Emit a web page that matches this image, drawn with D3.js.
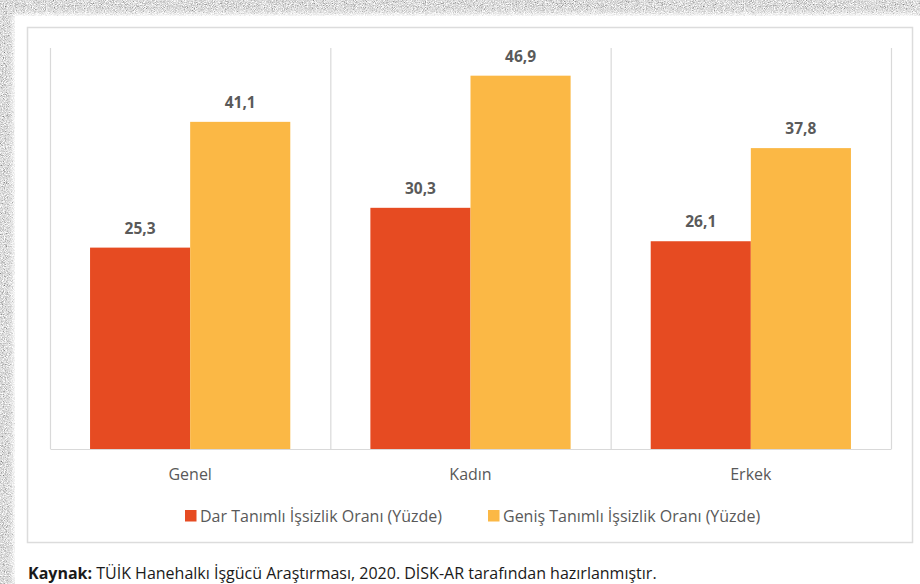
<!DOCTYPE html>
<html>
<head>
<meta charset="utf-8">
<script src="https://cdn.jsdelivr.net/npm/d3@7/dist/d3.min.js"></script>
<style>
  html, body { margin: 0; padding: 0; background: #fff; }
  svg { display: block; }
  text { font-family: "Open Sans", "Noto Sans", sans-serif; }
</style>
</head>
<body>
<svg id="chart" width="920" height="584"></svg>
<script>
// Data
const categories = ["Genel", "Kadın", "Erkek"];
const seriesNames = ["Dar Tanımlı İşsizlik Oranı (Yüzde)", "Geniş Tanımlı İşsizlik Oranı (Yüzde)"];
const darValues = [25.3, 30.3, 26.1];
const genisValues = [41.1, 46.9, 37.8];
const seriesColors = ["#E64B22", "#FBB845"];
const caption = { bold: "Kaynak:", rest: " TÜİK Hanehalkı İşgücü Araştırması, 2020. DİSK-AR tarafından hazırlanmıştır." };

const svg = d3.select("#chart");
const W = 920, H = 584;

// Grainy paper surround
const defs = svg.append("defs");
const grain = defs.append("filter").attr("id", "grain")
  .attr("x", 0).attr("y", 0).attr("width", "100%").attr("height", "100%");
grain.append("feTurbulence").attr("type", "fractalNoise")
  .attr("baseFrequency", 1.1).attr("numOctaves", 2).attr("seed", 7).attr("result", "n");
grain.append("feColorMatrix").attr("type", "matrix")
  .attr("values", "0.33 0.33 0.33 0 0  0.33 0.33 0.33 0 0  0.33 0.33 0.33 0 0  0 0 0 0 1")
  .attr("result", "g");
grain.append("feComponentTransfer").call(f => {
  f.append("feFuncR").attr("type", "linear").attr("slope", 2.2).attr("intercept", -0.38);
  f.append("feFuncG").attr("type", "linear").attr("slope", 2.2).attr("intercept", -0.38);
  f.append("feFuncB").attr("type", "linear").attr("slope", 2.2).attr("intercept", -0.38);
});
const soft = defs.append("filter").attr("id", "soft");
soft.append("feGaussianBlur").attr("stdDeviation", 2.5);

svg.append("rect").attr("width", W).attr("height", H).attr("filter", "url(#grain)");
svg.append("rect").attr("x", 13).attr("y", 14).attr("width", W - 13).attr("height", H - 14)
  .attr("fill", "#fff").attr("filter", "url(#soft)");
svg.append("rect").attr("x", 15).attr("y", 16).attr("width", W - 15).attr("height", H - 16)
  .attr("fill", "#fff");

// Chart frame
svg.append("rect").attr("x", 27.5).attr("y", 27.5).attr("width", 885).attr("height", 515)
  .attr("fill", "#fff").attr("stroke", "#dcdcdc").attr("stroke-width", 1.5);

// Plot geometry
const plot = { left: 50, right: 891, top: 51, bottom: 449 };

const x0 = d3.scaleBand().domain(categories).range([plot.left, plot.right]).paddingInner(0).paddingOuter(0);
const x1 = d3.scaleBand().domain([0, 1]).range([0, x0.bandwidth()]).paddingOuter(0.4).paddingInner(0);
const y = d3.scaleLinear().domain([0, 50]).range([plot.bottom, plot.top]);

// Category separators
const seps = [plot.left].concat(categories.map(c => x0(c) + x0.bandwidth()));
svg.append("g").selectAll("line").data(seps).join("line")
  .attr("x1", d => d + 0.5).attr("x2", d => d + 0.5)
  .attr("y1", 48).attr("y2", plot.bottom)
  .attr("stroke", "#d9d9d9").attr("stroke-width", 1.2);

// Bars
const rows = categories.map((c, i) => ({ cat: c, vals: [darValues[i], genisValues[i]] }));
const groups = svg.append("g").selectAll("g").data(rows).join("g")
  .attr("transform", d => `translate(${x0(d.cat)},0)`);

groups.selectAll("rect").data(d => d.vals.map((v, s) => ({ v, s }))).join("rect")
  .attr("x", d => x1(d.s))
  .attr("width", x1.bandwidth())
  .attr("y", d => y(d.v))
  .attr("height", d => y(0) - y(d.v))
  .attr("fill", d => seriesColors[d.s]);

groups.selectAll("text").data(d => d.vals.map((v, s) => ({ v, s }))).join("text")
  .attr("x", d => x1(d.s) + x1.bandwidth() / 2)
  .attr("y", d => y(d.v) - 14)
  .attr("text-anchor", "middle")
  .attr("font-size", 15.5).attr("font-weight", 700)
  .attr("fill", "#5a5a5a")
  .text(d => d3.format(".1f")(d.v).replace(".", ","));

// Baseline axis
const xAxis = d3.axisBottom(x0).tickSize(0).tickPadding(20);
const ax = svg.append("g").attr("transform", `translate(0,${plot.bottom})`).call(xAxis);
ax.select(".domain").attr("stroke", "#d9d9d9").attr("stroke-width", 1.2);
ax.selectAll("text").attr("font-size", 16).attr("fill", "#595959")
  .attr("font-family", "'Open Sans', 'Noto Sans', sans-serif");

// Legend
const legendItems = [
  { name: seriesNames[0], color: seriesColors[0], x: 185 },
  { name: seriesNames[1], color: seriesColors[1], x: 488 }
];
const lg = svg.append("g").selectAll("g").data(legendItems).join("g")
  .attr("transform", d => `translate(${d.x},516)`);
lg.append("rect").attr("x", 0).attr("y", -6).attr("width", 11.5).attr("height", 11.5)
  .attr("fill", d => d.color);
lg.append("text").attr("x", 15).attr("y", 6)
  .attr("font-size", 16).attr("fill", "#595959").text(d => d.name);

// Source caption
const cap = svg.append("text").attr("x", 28).attr("y", 579)
  .attr("font-size", 16).attr("fill", "#1a1a1a");
cap.append("tspan").attr("font-weight", 700).text(caption.bold);
cap.append("tspan").text(caption.rest);
</script>
</body>
</html>
